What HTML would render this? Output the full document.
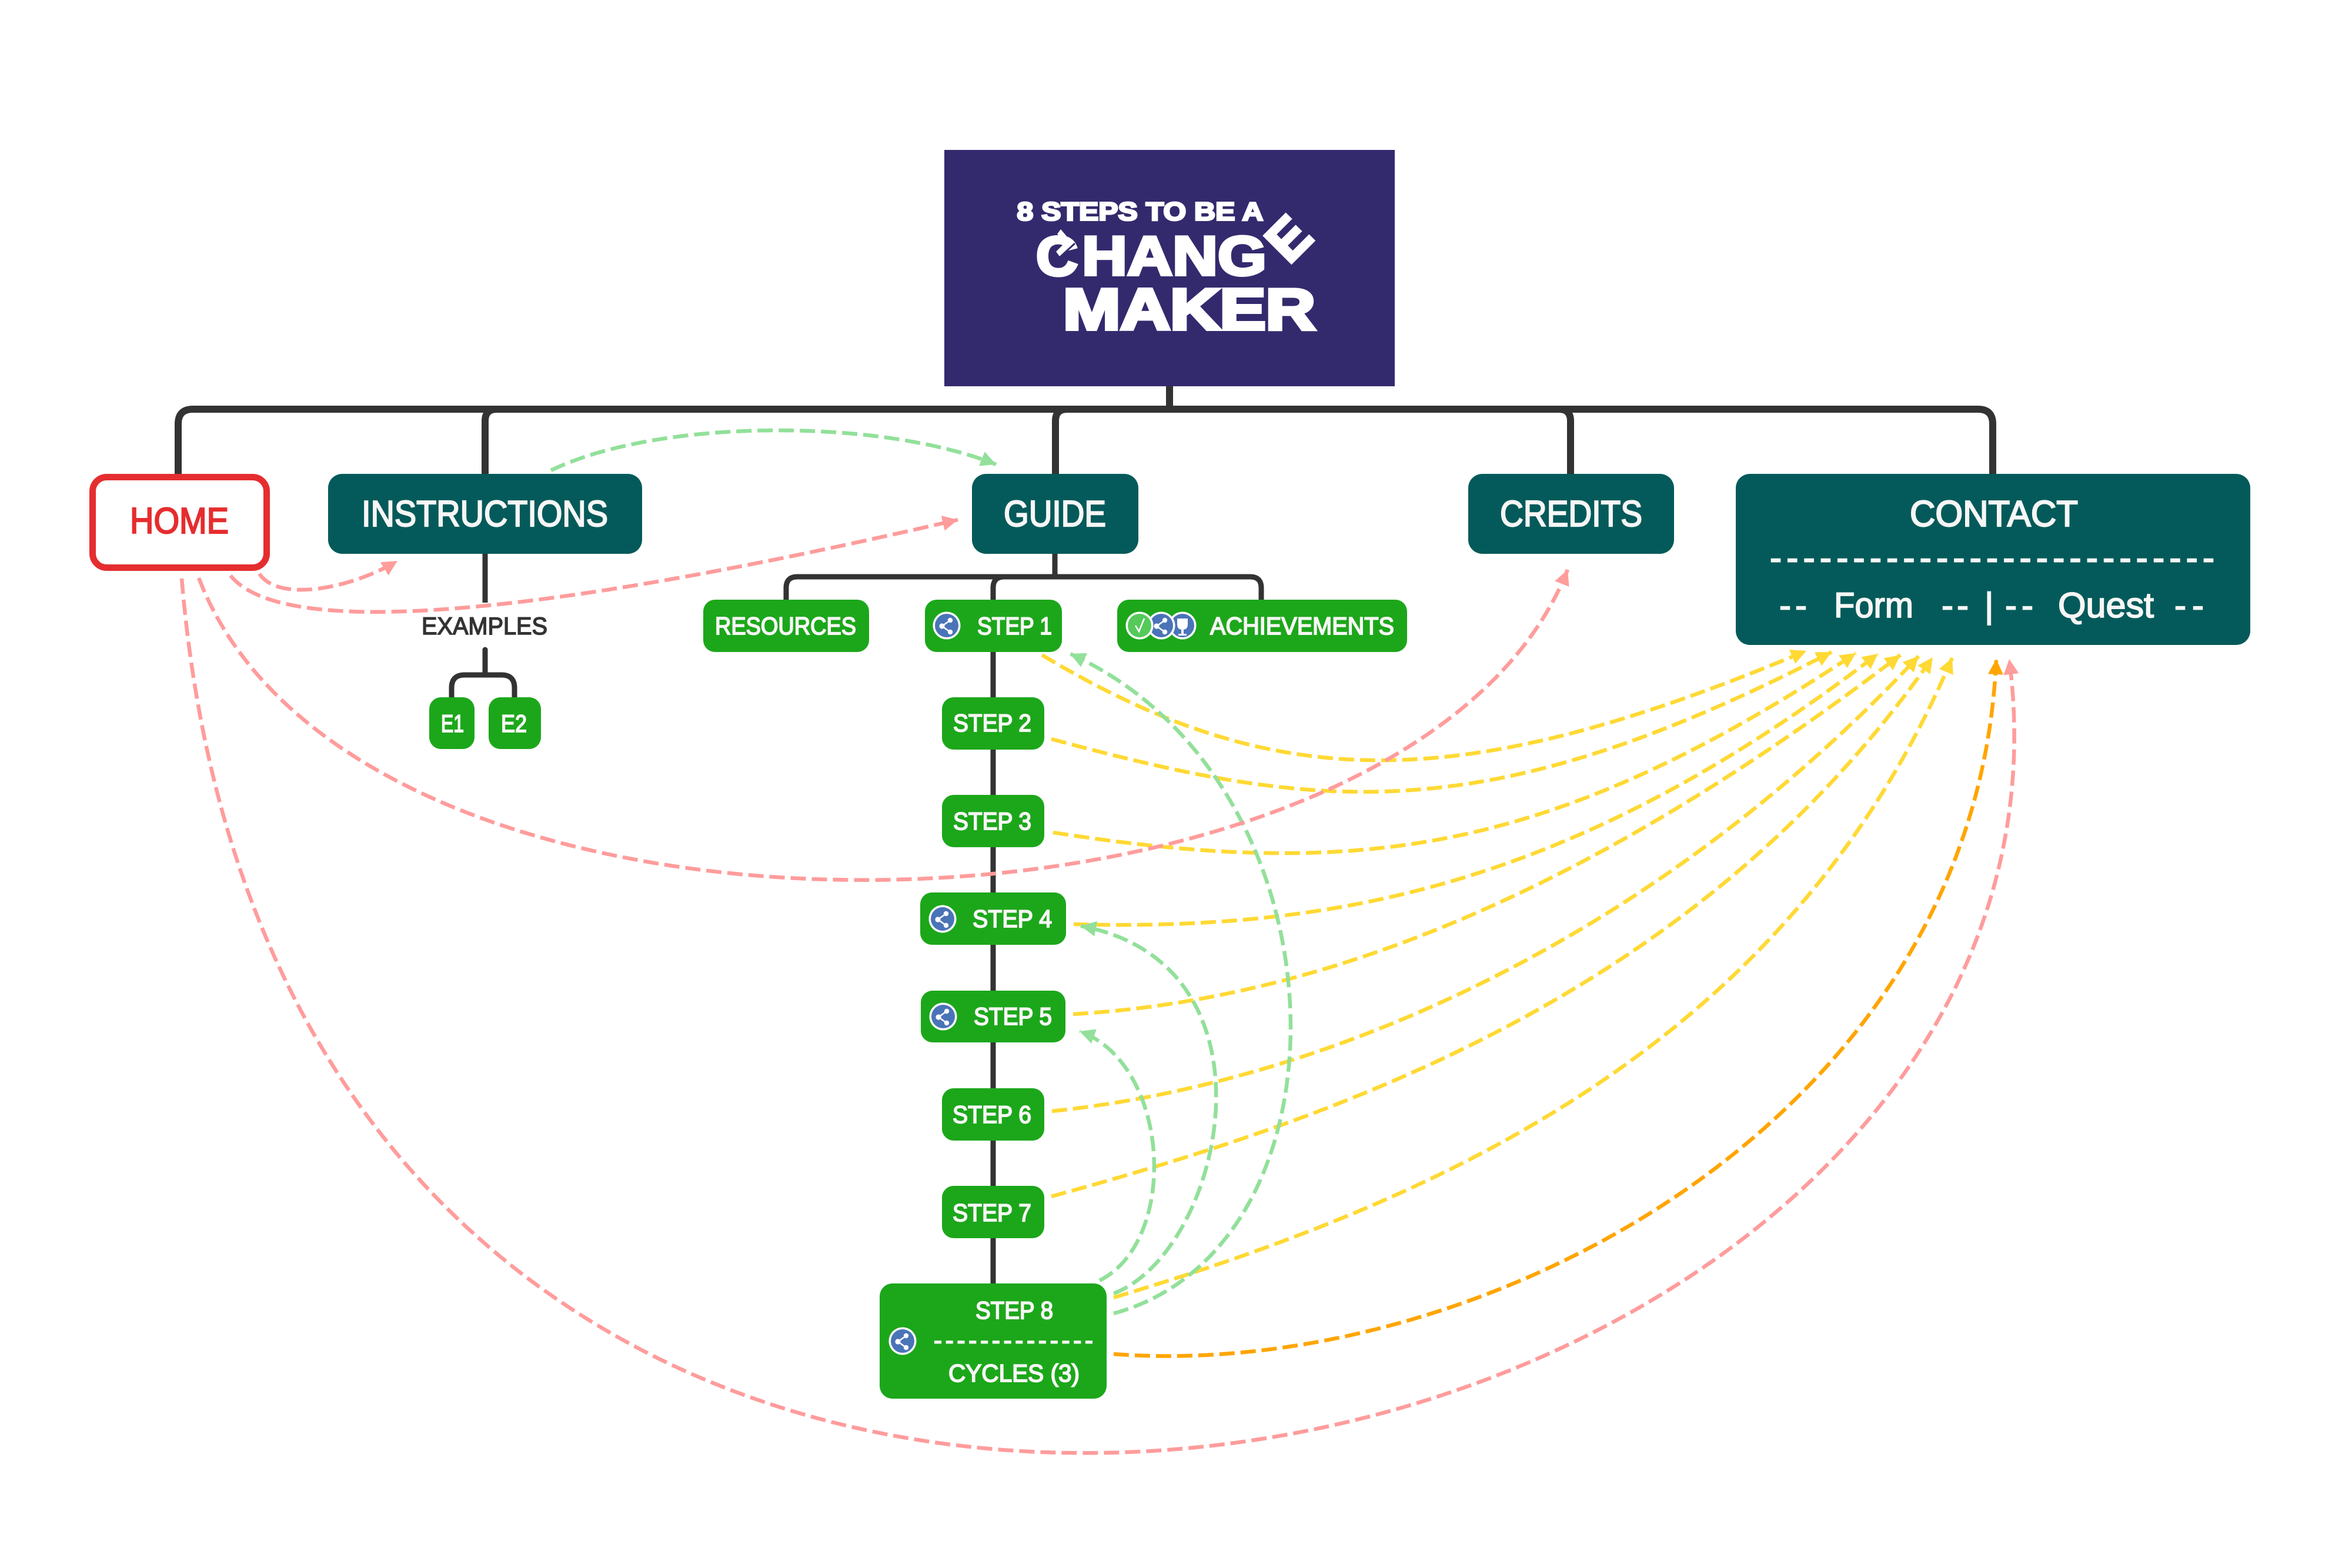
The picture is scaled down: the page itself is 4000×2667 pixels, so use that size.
<!DOCTYPE html>
<html lang="en">
<head>
<meta charset="utf-8">
<title>8 Steps to be a Changemaker</title>
<style>
html,body{margin:0;padding:0;background:#fff;width:4000px;height:2667px;overflow:hidden}
svg{display:block}
text{font-family:"Liberation Sans",sans-serif}
.t{fill:#f8f6f6;stroke:#f8f6f6;stroke-width:1.9}
.big{font-size:62px;stroke-width:2.2}
.med{font-size:42px}
.frm{font-size:60px;stroke-width:1.8}
.logo{font-weight:bold;fill:#fff;stroke:#fff}
.d{fill:none;stroke:#333;stroke-linejoin:round}
.r{fill:none;stroke-width:6.5;stroke-dasharray:26 10}
.g{stroke:#92e09a}.p{stroke:#ff9c9c}.y{stroke:#ffd934}.o{stroke:#ffa500}
</style>
</head>
<body>
<svg width="4000" height="2667" viewBox="0 0 4000 2667" xmlns="http://www.w3.org/2000/svg">
<defs>
<marker id="mg" markerUnits="userSpaceOnUse" markerWidth="27" markerHeight="28" refX="26" refY="14" orient="auto"><path d="M0,1 L26,14 L0,27 Z" fill="#92e09a"/></marker>
<marker id="mp" markerUnits="userSpaceOnUse" markerWidth="27" markerHeight="28" refX="26" refY="14" orient="auto"><path d="M0,1 L26,14 L0,27 Z" fill="#ff9c9c"/></marker>
<marker id="my" markerUnits="userSpaceOnUse" markerWidth="27" markerHeight="28" refX="26" refY="14" orient="auto"><path d="M0,1 L26,14 L0,27 Z" fill="#ffd934"/></marker>
<marker id="mo" markerUnits="userSpaceOnUse" markerWidth="27" markerHeight="28" refX="26" refY="14" orient="auto"><path d="M0,1 L26,14 L0,27 Z" fill="#ffa500"/></marker>
<g id="share">
<circle r="23.5" fill="#fff"/><circle r="20" fill="#4a74b8"/>
<path d="M6,-9 L-8,1 L6,11" fill="none" stroke="#fff" stroke-width="2.6"/>
<circle cx="6" cy="-9" r="4.2" fill="#fff"/><circle cx="-8" cy="1" r="4.6" fill="#fff"/><circle cx="6" cy="11" r="4.2" fill="#fff"/>
</g>
</defs>

<!-- Title -->
<rect x="1606" y="255" width="766" height="402" fill="#332a6e"/>
<text class="logo" x="1729.5" y="374.5" font-size="44" stroke-width="3" textLength="419" lengthAdjust="spacingAndGlyphs">8 STEPS TO BE A</text>
<text class="logo" x="1762" y="468" font-size="94" stroke-width="5" textLength="71" lengthAdjust="spacingAndGlyphs">C</text>
<polygon points="1798,398 1804,390 1826,416 1802,436 1796,428 1812,412" fill="#fff"/>
<line x1="1803" y1="437" x2="1828" y2="414" stroke="#332a6e" stroke-width="3"/>
<text class="logo" x="1840" y="467.5" font-size="94" stroke-width="5" textLength="314" lengthAdjust="spacingAndGlyphs">HANG</text>
<text class="logo" x="-5" y="-2" font-size="94" stroke-width="5" transform="translate(2197,449) rotate(-45)">E</text>
<text class="logo" x="1808" y="560" font-size="98" stroke-width="6" textLength="429" lengthAdjust="spacingAndGlyphs">MAKER</text>

<!-- Tree connectors -->
<g class="d" stroke-width="12">
<path d="M1989,657 V696"/>
<path d="M303,812 V721 Q303,696 328,696 H3364 Q3389,696 3389,721 V806"/>
<path d="M825,806 V716 Q825,696 845,696"/>
<path d="M1795,806 V716 Q1795,696 1815,696"/>
<path d="M2651,696 Q2671,696 2671,716 V806"/>
</g>
<g class="d" stroke-width="9">
<path d="M825,942 V1025"/>
<path d="M825,1105 V1148" stroke-linecap="round"/>
<path d="M768,1186 V1170 Q768,1148 790,1148 H853 Q875,1148 875,1170 V1186"/>
<path d="M1794,942 V981"/>
<path d="M1337,1020 V1000 Q1337,981 1356,981 H2126 Q2145,981 2145,1000 V1020"/>
<path d="M1689,1020 V1000 Q1689,981 1708,981"/>
<path d="M1689,1109 V2183"/>
</g>

<!-- Nodes -->
<rect x="157.5" y="811.5" width="296" height="154" rx="24" fill="#fff" stroke="#e52d2f" stroke-width="11"/>
<g fill="#045a5a">
<rect x="558" y="806" width="534" height="136" rx="24"/>
<rect x="1653" y="806" width="283" height="136" rx="24"/>
<rect x="2497" y="806" width="350" height="136" rx="24"/>
<rect x="2952" y="806" width="875" height="291" rx="24"/>
</g>
<g fill="#1ca71a">
<rect x="730" y="1186" width="77" height="88" rx="20"/>
<rect x="831" y="1186" width="89" height="88" rx="20"/>
<rect x="1196" y="1020" width="282" height="89" rx="20"/>
<rect x="1573" y="1020" width="233" height="89" rx="20"/>
<rect x="1900" y="1020" width="493" height="89" rx="20"/>
<rect x="1602" y="1186" width="174" height="89" rx="20"/>
<rect x="1602" y="1352" width="174" height="89" rx="20"/>
<rect x="1565" y="1518" width="248" height="89" rx="20"/>
<rect x="1566" y="1685" width="246" height="88" rx="20"/>
<rect x="1602" y="1851" width="174" height="89" rx="20"/>
<rect x="1602" y="2017" width="174" height="89" rx="20"/>
<rect x="1496" y="2183" width="386" height="196" rx="22"/>
</g>

<!-- Icons -->
<use href="#share" x="1610" y="1064"/>
<use href="#share" x="1603" y="1563"/>
<use href="#share" x="1604" y="1729"/>
<use href="#share" x="1535" y="2281"/>
<g>
<circle cx="2011" cy="1064" r="23.5" fill="#fff"/><circle cx="2011" cy="1064" r="20" fill="#4a74b8"/>
<path d="M2002,1052 H2020 V1062 Q2020,1071 2011,1071 Q2002,1071 2002,1062 Z M2009,1071 H2013 V1078 H2018 V1081 H2004 V1078 H2009 Z" fill="#fff"/>
<use href="#share" x="1975" y="1064"/>
<circle cx="1938" cy="1064" r="23.5" fill="#fff"/><circle cx="1938" cy="1064" r="20" fill="#55c95a"/>
<path d="M1931,1064 L1937,1074 L1946,1052" fill="none" stroke="#fff" stroke-width="2.6"/>
</g>

<!-- Labels -->
<text class="big" x="221" y="907" fill="#e52d2f" stroke="#e52d2f" stroke-width="2.2" textLength="168" lengthAdjust="spacingAndGlyphs">HOME</text>
<text class="t big" x="615" y="895" textLength="419" lengthAdjust="spacingAndGlyphs">INSTRUCTIONS</text>
<text class="t big" x="1707" y="895" textLength="174" lengthAdjust="spacingAndGlyphs">GUIDE</text>
<text class="t big" x="2551" y="895" textLength="242" lengthAdjust="spacingAndGlyphs">CREDITS</text>
<text class="t big" x="3248" y="895" textLength="286" lengthAdjust="spacingAndGlyphs">CONTACT</text>
<text class="t frm" x="3010" y="969" style="stroke-width:2" textLength="756" lengthAdjust="spacing">---------------------------</text>
<text class="t frm" x="3026" y="1050" textLength="47" lengthAdjust="spacing">--</text>
<text class="t frm" x="3119" y="1050" textLength="135" lengthAdjust="spacingAndGlyphs">Form</text>
<text class="t frm" x="3302" y="1050" textLength="46" lengthAdjust="spacing">--</text>
<text class="t frm" x="3375" y="1050">|</text>
<text class="t frm" x="3410" y="1050" textLength="48" lengthAdjust="spacing">--</text>
<text class="t frm" x="3500" y="1050" textLength="163" lengthAdjust="spacingAndGlyphs">Quest</text>
<text class="t frm" x="3698" y="1050" textLength="50" lengthAdjust="spacing">--</text>

<text class="med" x="717" y="1079" fill="#333" stroke="#333" stroke-width="1.6" textLength="214" lengthAdjust="spacingAndGlyphs">EXAMPLES</text>
<text class="t med" x="750" y="1245" textLength="39" lengthAdjust="spacingAndGlyphs">E1</text>
<text class="t med" x="852" y="1245" textLength="44" lengthAdjust="spacingAndGlyphs">E2</text>
<text class="t med" x="1216" y="1079" textLength="240" lengthAdjust="spacingAndGlyphs">RESOURCES</text>
<text class="t med" x="1662" y="1079" textLength="127" lengthAdjust="spacingAndGlyphs">STEP 1</text>
<text class="t med" x="2058" y="1079" textLength="313" lengthAdjust="spacingAndGlyphs">ACHIEVEMENTS</text>
<text class="t med" x="1621" y="1244" textLength="133" lengthAdjust="spacingAndGlyphs">STEP 2</text>
<text class="t med" x="1621" y="1411" textLength="133" lengthAdjust="spacingAndGlyphs">STEP 3</text>
<text class="t med" x="1654" y="1577" textLength="135" lengthAdjust="spacingAndGlyphs">STEP 4</text>
<text class="t med" x="1656" y="1743" textLength="133" lengthAdjust="spacingAndGlyphs">STEP 5</text>
<text class="t med" x="1620" y="1910" textLength="134" lengthAdjust="spacingAndGlyphs">STEP 6</text>
<text class="t med" x="1620" y="2077" textLength="134" lengthAdjust="spacingAndGlyphs">STEP 7</text>
<text class="t med" x="1659" y="2243" textLength="132" lengthAdjust="spacingAndGlyphs">STEP 8</text>
<text class="t med" x="1588" y="2294" textLength="271" lengthAdjust="spacing">--------------</text>
<text class="t med" x="1613" y="2350" textLength="223" lengthAdjust="spacingAndGlyphs">CYCLES (3)</text>

<!-- Relationships -->
<path class="r y" marker-end="url(#my)" d="M1772,1114 C2172,1354 2484,1354 3072,1107"/>
<path class="r y" marker-end="url(#my)" d="M1788,1257 C2243,1380 2523,1415 3115,1109"/>
<path class="r y" marker-end="url(#my)" d="M1791,1416 C2300,1495 2630,1460 3156,1111"/>
<path class="r y" marker-end="url(#my)" d="M1826,1572 C2300,1585 2700,1490 3194,1112"/>
<path class="r y" marker-end="url(#my)" d="M1825,1725 C2250,1700 2700,1520 3232,1114"/>
<path class="r y" marker-end="url(#my)" d="M1789,1890 C2270,1840 2820,1590 3263,1116"/>
<path class="r y" marker-end="url(#my)" d="M1788,2035 C2300,1895 2890,1685 3287,1118"/>
<path class="r y" marker-end="url(#my)" d="M1894,2207 C2450,2040 3040,1780 3320,1119"/>
<path class="r o" marker-end="url(#mo)" d="M1894,2303 C2500,2350 3360,1920 3395,1121"/>
<path class="r g" marker-end="url(#mg)" d="M937,800 C1122,711 1496,711 1694,790"/>
<path class="r g" marker-end="url(#mg)" d="M1870,2178 C2006,2110 1991,1810 1836,1754"/>
<path class="r g" marker-end="url(#mg)" d="M1894,2200 C2080,2130 2190,1640 1838,1575"/>
<path class="r g" marker-end="url(#mg)" d="M1894,2234 C2313,2120 2300,1330 1820,1112"/>
<path class="r p" marker-end="url(#mp)" d="M441,976 C475,1026 600,1000 676,954"/>
<path class="r p" marker-end="url(#mp)" d="M392,979 C490,1100 1000,1030 1629,884"/>
<path class="r p" marker-end="url(#mp)" d="M338,983 C610,1695 2400,1645 2666,969"/>
<path class="r p" marker-end="url(#mp)" d="M309,984 C500,3270 3610,2600 3417,1121"/>
</svg>
</body>
</html>
